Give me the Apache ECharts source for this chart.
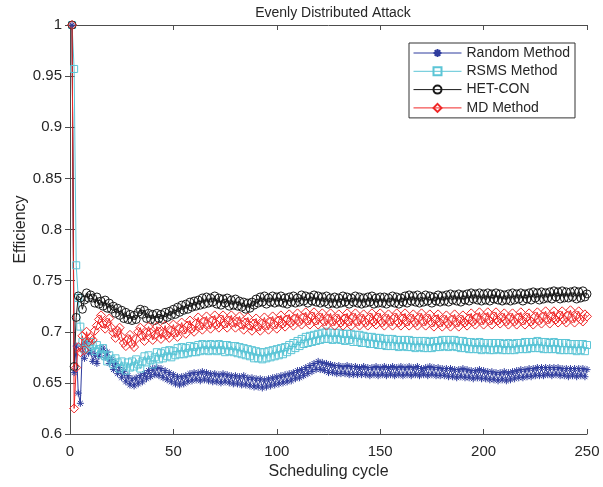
<!DOCTYPE html>
<html><head><meta charset="utf-8">
<script src="https://cdn.jsdelivr.net/npm/echarts@6/dist/echarts.min.js"></script>
<style>html,body{margin:0;padding:0;background:#fff}#c{width:603px;height:487px}</style>
</head><body><div id="c"></div>
<script>
const titleText = 'Evenly Distributed Attack';
const xAxisName = 'Scheduling cycle';
const yAxisName = 'Efficiency';
const seriesNames = ['Random Method', 'RSMS Method', 'HET-CON', 'MD Method'];

// values for scheduling cycles 1..250
const randomMethod = [
1.000,0.660,0.686,0.640,0.630,0.686,0.674,0.690,0.679,0.681,
0.671,0.678,0.669,0.676,0.681,0.684,0.675,0.680,0.669,0.673,
0.663,0.669,0.659,0.665,0.655,0.661,0.651,0.657,0.648,0.654,
0.647,0.655,0.649,0.657,0.651,0.659,0.654,0.662,0.656,0.664,
0.658,0.665,0.657,0.664,0.655,0.662,0.653,0.660,0.651,0.658,
0.649,0.656,0.648,0.656,0.649,0.657,0.651,0.659,0.652,0.660,
0.653,0.660,0.652,0.661,0.653,0.660,0.652,0.659,0.651,0.659,
0.651,0.658,0.650,0.659,0.651,0.658,0.650,0.657,0.649,0.657,
0.649,0.656,0.648,0.657,0.648,0.655,0.647,0.655,0.646,0.654,
0.646,0.654,0.645,0.653,0.646,0.654,0.647,0.655,0.648,0.656,
0.649,0.657,0.650,0.658,0.651,0.659,0.652,0.660,0.654,0.662,
0.655,0.663,0.657,0.665,0.659,0.667,0.661,0.669,0.663,0.671,
0.663,0.670,0.662,0.669,0.660,0.668,0.660,0.667,0.659,0.667,
0.659,0.666,0.659,0.667,0.658,0.666,0.658,0.666,0.658,0.665,
0.658,0.666,0.658,0.665,0.657,0.665,0.658,0.666,0.657,0.665,
0.658,0.666,0.657,0.665,0.658,0.666,0.657,0.665,0.658,0.666,
0.657,0.665,0.658,0.666,0.657,0.665,0.658,0.666,0.657,0.664,
0.658,0.665,0.657,0.666,0.658,0.665,0.657,0.665,0.657,0.664,
0.657,0.664,0.656,0.664,0.656,0.663,0.655,0.663,0.656,0.664,
0.655,0.663,0.655,0.662,0.654,0.662,0.655,0.663,0.654,0.662,
0.654,0.661,0.653,0.661,0.653,0.660,0.652,0.660,0.653,0.661,
0.652,0.660,0.653,0.661,0.654,0.662,0.655,0.663,0.655,0.663,
0.656,0.664,0.656,0.664,0.657,0.665,0.657,0.665,0.657,0.665,
0.658,0.665,0.657,0.665,0.658,0.665,0.657,0.664,0.657,0.664,
0.656,0.664,0.657,0.664,0.656,0.664,0.657,0.664,0.656,0.663
];
const rsmsMethod = [
1.000,0.957,0.765,0.733,0.705,0.690,0.683,0.688,0.684,0.690,
0.686,0.681,0.687,0.683,0.678,0.684,0.676,0.671,0.677,0.673,
0.668,0.674,0.670,0.664,0.671,0.666,0.662,0.670,0.665,0.671,
0.666,0.673,0.668,0.664,0.671,0.676,0.670,0.677,0.672,0.668,
0.675,0.680,0.673,0.679,0.674,0.681,0.676,0.682,0.675,0.681,
0.677,0.684,0.678,0.685,0.678,0.684,0.679,0.686,0.680,0.685,
0.680,0.687,0.681,0.688,0.682,0.687,0.681,0.688,0.682,0.687,
0.681,0.688,0.682,0.687,0.680,0.687,0.681,0.686,0.680,0.686,
0.679,0.685,0.678,0.684,0.677,0.683,0.676,0.682,0.674,0.681,
0.674,0.680,0.673,0.680,0.674,0.681,0.675,0.682,0.676,0.683,
0.677,0.684,0.678,0.685,0.680,0.687,0.682,0.689,0.684,0.691,
0.686,0.693,0.688,0.695,0.689,0.696,0.690,0.697,0.691,0.698,
0.692,0.699,0.693,0.700,0.693,0.699,0.692,0.699,0.693,0.699,
0.692,0.698,0.691,0.698,0.692,0.698,0.690,0.697,0.690,0.697,
0.689,0.696,0.689,0.695,0.688,0.695,0.688,0.694,0.687,0.694,
0.687,0.693,0.686,0.693,0.686,0.693,0.686,0.692,0.685,0.692,
0.686,0.692,0.685,0.692,0.685,0.691,0.684,0.691,0.685,0.691,
0.684,0.691,0.684,0.690,0.684,0.691,0.685,0.691,0.685,0.692,
0.686,0.692,0.685,0.692,0.686,0.692,0.685,0.691,0.684,0.691,
0.684,0.690,0.683,0.690,0.683,0.689,0.683,0.690,0.682,0.689,
0.683,0.689,0.682,0.689,0.682,0.689,0.683,0.689,0.682,0.688,
0.682,0.689,0.682,0.688,0.682,0.689,0.683,0.689,0.683,0.690,
0.683,0.690,0.684,0.690,0.684,0.691,0.684,0.690,0.683,0.690,
0.683,0.689,0.683,0.690,0.683,0.689,0.682,0.689,0.682,0.689,
0.682,0.688,0.682,0.688,0.681,0.688,0.682,0.688,0.681,0.687
];
const hetCon = [
1.000,0.666,0.714,0.735,0.733,0.722,0.731,0.738,0.733,0.736,
0.733,0.728,0.734,0.727,0.730,0.725,0.731,0.723,0.728,0.722,
0.725,0.718,0.723,0.716,0.721,0.713,0.719,0.712,0.717,0.711,
0.716,0.712,0.719,0.722,0.717,0.721,0.713,0.718,0.712,0.717,
0.711,0.718,0.713,0.717,0.712,0.719,0.714,0.720,0.716,0.722,
0.717,0.724,0.719,0.726,0.721,0.727,0.722,0.729,0.724,0.730,
0.725,0.731,0.726,0.733,0.727,0.734,0.728,0.733,0.729,0.735,
0.727,0.733,0.726,0.732,0.728,0.733,0.725,0.731,0.726,0.732,
0.725,0.730,0.724,0.729,0.722,0.728,0.723,0.729,0.726,0.732,
0.728,0.734,0.729,0.735,0.727,0.733,0.729,0.735,0.728,0.734,
0.729,0.735,0.728,0.733,0.727,0.734,0.729,0.735,0.728,0.733,
0.729,0.736,0.730,0.735,0.728,0.734,0.730,0.736,0.729,0.735,
0.728,0.734,0.729,0.735,0.727,0.733,0.728,0.734,0.727,0.733,
0.728,0.735,0.729,0.734,0.727,0.733,0.729,0.735,0.728,0.734,
0.727,0.733,0.728,0.734,0.729,0.735,0.727,0.733,0.728,0.734,
0.728,0.734,0.727,0.733,0.729,0.735,0.728,0.734,0.727,0.733,
0.729,0.735,0.728,0.736,0.730,0.735,0.729,0.736,0.728,0.734,
0.729,0.736,0.730,0.735,0.728,0.734,0.730,0.736,0.729,0.735,
0.730,0.736,0.729,0.737,0.731,0.736,0.730,0.737,0.729,0.736,
0.731,0.737,0.730,0.738,0.732,0.737,0.731,0.738,0.730,0.737,
0.731,0.738,0.730,0.737,0.732,0.738,0.731,0.737,0.730,0.736,
0.731,0.737,0.730,0.738,0.731,0.737,0.732,0.738,0.730,0.737,
0.732,0.738,0.731,0.739,0.733,0.738,0.731,0.739,0.732,0.738,
0.733,0.739,0.732,0.740,0.734,0.739,0.732,0.740,0.733,0.739,
0.733,0.739,0.734,0.740,0.732,0.739,0.733,0.740,0.734,0.737
];
const mdMethod = [
1.000,0.625,0.665,0.685,0.680,0.696,0.682,0.700,0.690,0.694,
0.692,0.701,0.706,0.712,0.716,0.708,0.703,0.709,0.713,0.704,
0.699,0.694,0.701,0.704,0.695,0.689,0.686,0.693,0.697,0.688,
0.685,0.693,0.700,0.704,0.696,0.691,0.699,0.705,0.699,0.692,
0.697,0.705,0.700,0.693,0.699,0.706,0.697,0.694,0.701,0.707,
0.699,0.695,0.703,0.709,0.702,0.698,0.706,0.711,0.703,0.700,
0.708,0.714,0.706,0.702,0.710,0.715,0.707,0.703,0.711,0.716,
0.707,0.704,0.712,0.716,0.708,0.704,0.711,0.716,0.709,0.704,
0.710,0.715,0.707,0.702,0.709,0.714,0.706,0.701,0.708,0.713,
0.705,0.701,0.708,0.714,0.706,0.702,0.710,0.715,0.707,0.703,
0.711,0.716,0.708,0.705,0.712,0.717,0.709,0.706,0.713,0.718,
0.710,0.707,0.714,0.719,0.711,0.707,0.715,0.719,0.711,0.707,
0.714,0.718,0.710,0.706,0.713,0.718,0.710,0.706,0.713,0.717,
0.709,0.706,0.713,0.718,0.710,0.706,0.714,0.718,0.710,0.706,
0.713,0.717,0.709,0.706,0.714,0.718,0.710,0.707,0.714,0.718,
0.709,0.706,0.713,0.717,0.710,0.706,0.714,0.718,0.709,0.706,
0.713,0.718,0.710,0.706,0.713,0.717,0.709,0.706,0.714,0.718,
0.710,0.706,0.713,0.717,0.709,0.705,0.712,0.717,0.709,0.705,
0.712,0.716,0.708,0.705,0.712,0.717,0.709,0.705,0.712,0.716,
0.709,0.706,0.713,0.718,0.710,0.707,0.714,0.719,0.711,0.707,
0.714,0.719,0.711,0.707,0.715,0.719,0.711,0.708,0.714,0.718,
0.710,0.707,0.714,0.718,0.710,0.707,0.714,0.719,0.711,0.707,
0.714,0.718,0.710,0.707,0.715,0.719,0.711,0.708,0.715,0.720,
0.712,0.708,0.715,0.720,0.712,0.709,0.716,0.720,0.712,0.709,
0.716,0.721,0.713,0.709,0.716,0.720,0.712,0.710,0.717,0.715
];

const FONT = 'Arial, "Liberation Sans", Helvetica, sans-serif';
const AXIS = '#4d4d4d';
const TEXT = '#262626';
const asterisk = 'path://M5,0L5,10M0,5L10,5M1.5,1.5L8.5,8.5M1.5,8.5L8.5,1.5';

function pairs(arr) { return arr.map((v, i) => [i + 1, v]); }
function mk(name, data, color, symbol, size) {
  return {
    name, type: 'line', data: pairs(data), symbol, symbolSize: size,
    showAllSymbol: true, xAxisIndex: 0, yAxisIndex: 0,
    lineStyle: { color, width: 1 },
    itemStyle: { color: 'rgba(255,255,255,0)', borderColor: color, borderWidth: 1 },
    emphasis: { disabled: true }, animation: false
  };
}

const chart = echarts.init(document.getElementById('c'), null, { renderer: 'canvas' });
const tickStyle = { show: true, inside: true, length: 5, lineStyle: { color: AXIS, width: 1 } };
chart.setOption({
  animation: false,
  backgroundColor: '#fff',
  title: {
    text: titleText, left: 328, top: 1, textAlign: 'center',
    textStyle: { fontFamily: FONT, fontSize: 14, fontWeight: 'normal', color: TEXT }
  },
  grid: { left: 70, right: 16, top: 25, bottom: 53, containLabel: false, outerBoundsMode: 'none' },
  legend: {
    orient: 'vertical', left: 409, top: 43,
    padding: [3, 5, 3, 4], itemGap: 4.3, itemWidth: 48, itemHeight: 10,
    backgroundColor: '#fff', borderColor: '#333', borderWidth: 1,
    lineStyle: { width: 1 },
    textStyle: { fontFamily: FONT, fontSize: 14, color: TEXT },
    data: seriesNames
  },
  xAxis: [
    {
      type: 'value', min: 0, max: 250, interval: 50, position: 'bottom',
      name: xAxisName, nameLocation: 'middle', nameGap: 30, nameMoveOverlap: false,
      nameTextStyle: { fontFamily: FONT, fontSize: 16, color: TEXT },
      axisLine: { show: true, lineStyle: { color: AXIS, width: 1 } },
      axisTick: tickStyle, splitLine: { show: false },
      axisLabel: { fontFamily: FONT, fontSize: 15, color: TEXT, margin: 10 }
    },
    {
      type: 'value', min: 0, max: 250, interval: 50, position: 'top',
      axisLine: { show: true, lineStyle: { color: AXIS, width: 1 } },
      axisTick: tickStyle, splitLine: { show: false }, axisLabel: { show: false }
    }
  ],
  yAxis: [
    {
      type: 'value', min: 0.6, max: 1, interval: 0.05, position: 'left',
      name: yAxisName, nameLocation: 'middle', nameGap: 41, nameMoveOverlap: false,
      nameTextStyle: { fontFamily: FONT, fontSize: 16, color: TEXT },
      axisLine: { show: true, lineStyle: { color: AXIS, width: 1 } },
      axisTick: tickStyle, splitLine: { show: false },
      axisLabel: { fontFamily: FONT, fontSize: 15, color: TEXT, margin: 8 }
    },
    {
      type: 'value', min: 0.6, max: 1, interval: 0.05, position: 'right',
      axisLine: { show: true, lineStyle: { color: AXIS, width: 1 } },
      axisTick: tickStyle, splitLine: { show: false }, axisLabel: { show: false }
    }
  ],
  series: [
    mk(seriesNames[0], randomMethod, '#2f3c9e', asterisk, 7),
    mk(seriesNames[1], rsmsMethod, '#5cc5d6', 'rect', 7),
    mk(seriesNames[2], hetCon, '#1a1a1a', 'circle', 8),
    mk(seriesNames[3], mdMethod, '#f02828', 'diamond', 9)
  ]
});
</script>
</body></html>
